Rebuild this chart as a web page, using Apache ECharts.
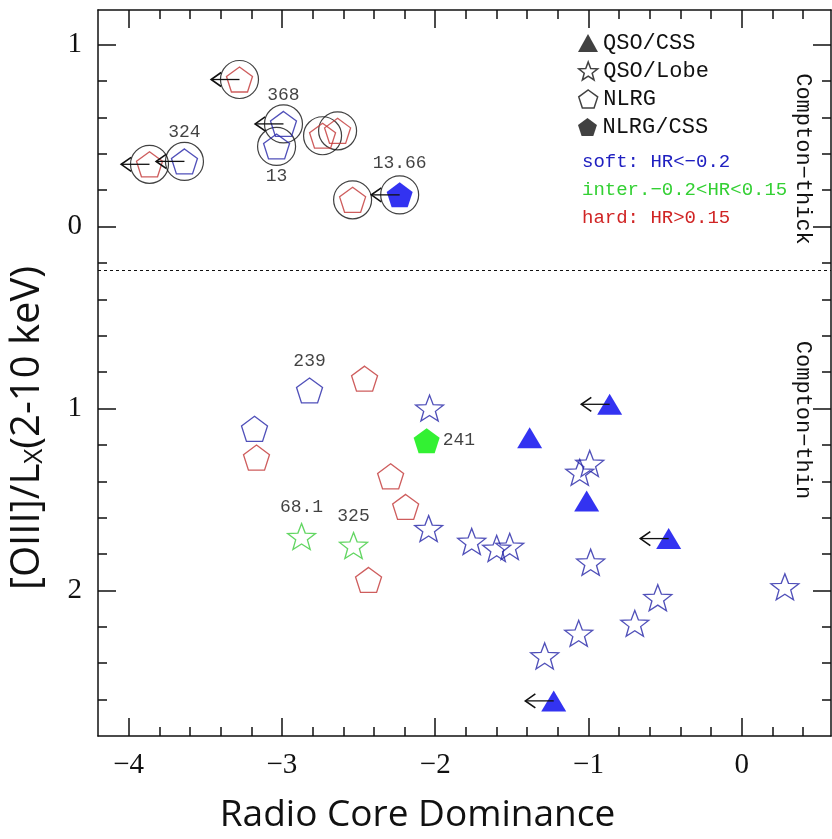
<!DOCTYPE html>
<html><head><meta charset="utf-8">
<script src="https://cdn.jsdelivr.net/npm/echarts@6/dist/echarts.min.js"></script>
<style>html,body{margin:0;padding:0;background:#fff}#c{width:832px;height:839px}</style>
</head><body><div id="c"></div>
<script>
// ---------- data ----------
// Compton-thick region (top panel), all encircled
const thickRedX = [-3.277, -3.864, -2.735, -2.637, -2.539];
const thickRedY = [-0.808, -0.342, -0.499, -0.526, -0.147];
const thickRedLimit = [1, 1, 0, 0, 0];

const thickBlueX = [-3.636, -2.990, -3.035];
const thickBlueY = [-0.358, -0.564, -0.440];
const thickBlueLimit = [1, 1, 0];
const thickBlueLabels = ['324', '368', '13'];

const thickBlueFillX = [-2.232];
const thickBlueFillY = [-0.174];
const thickBlueFillLimit = [1];
const thickBlueFillLabels = ['13.66'];

// Compton-thin region (bottom panel)
const thinRedPentX = [-2.461, -3.166, -2.291, -2.193, -2.435];
const thinRedPentY = [0.836, 1.270, 1.373, 1.541, 1.942];

const thinBluePentX = [-2.820, -3.179];
const thinBluePentY = [0.901, 1.112];
const thinBluePentLabels = ['239', ''];

const greenFillX = [-2.056];
const greenFillY = [1.177];
const greenFillLabels = ['241'];

const blueStarX = [-2.037, -2.043, -1.762, -1.599, -1.514, -0.992, -1.057, -0.986, -0.548, -0.698, -1.064, -1.286, 0.281];
const blueStarY = [0.998, 1.660, 1.731, 1.769, 1.758, 1.302, 1.351, 1.845, 2.040, 2.181, 2.236, 2.360, 1.980];

const greenStarX = [-2.872, -2.533];
const greenStarY = [1.704, 1.753];
const greenStarLabels = ['68.1', '325'];

const triX = [-0.862, -1.384, -1.012, -0.477, -1.227];
const triY = [0.977, 1.161, 1.509, 1.715, 2.607];
const triLimit = [1, 0, 0, 1, 1];

const dividerY = 0.24;

const xMajor = [-4, -3, -2, -1, 0];
const xMinor = [-3.8, -3.6, -3.4, -3.2, -2.8, -2.6, -2.4, -2.2, -1.8, -1.6, -1.4, -1.2, -0.8, -0.6, -0.4, -0.2, 0.2, 0.4];
const yMajor = [-1, 0, 1, 2];
const yMinor = [-0.8, -0.6, -0.4, -0.2, 0.2, 0.4, 0.6, 0.8, 1.2, 1.4, 1.6, 1.8, 2.2, 2.4, 2.6];

const legendNames = ['QSO/CSS', 'QSO/Lobe', 'NLRG', 'NLRG/CSS'];
const hrTexts = ['soft: HR<\u22120.2', 'inter.\u22120.2<HR<0.15', 'hard: HR>0.15'];
const regionTexts = ['Compton\u2212thick', 'Compton\u2212thin'];

// ---------- styles ----------
const XMIN = -4.2, XMAX = 0.582, YMIN = -1.19, YMAX = 2.8;
const INK = '#111';
const RED = '#c23434', BLUE = '#2424a8', GREEN = '#3ccc3c';
const BLUEFILL = '#0000ee', GREENFILL = '#00ee00';
const PENT = 'path://M0,-1 L0.951,-0.309 L0.588,0.809 L-0.588,0.809 L-0.951,-0.309 Z';
const STAR = 'path://M0,-1 L0.247,-0.340 L0.951,-0.309 L0.399,0.130 L0.588,0.809 L0,0.420 L-0.588,0.809 L-0.399,0.130 L-0.951,-0.309 L-0.247,-0.340 Z';
const ARROW_LEN = 0.185;
const MONO = 'Liberation Mono';

function pts(xs, ys, labels) {
  return xs.map((x, i) => {
    const name = labels ? labels[i] : '';
    const item = { value: [x, ys[i]], name: name };
    if (name === '13') item.label = { position: 'bottom', distance: 8 };
    if (name === '241') item.label = { position: 'right', distance: 3 };
    return item;
  });
}
function limits(xs, ys, flags) {
  const out = [];
  xs.forEach((x, i) => { if (flags[i]) out.push([x, ys[i]]); });
  return out;
}
const pointLabel = { show: true, formatter: p => p.name, position: 'top', distance: 7,
  fontFamily: MONO, fontSize: 18, color: INK };

const circlePts = [].concat(
  thickRedX.map((x, i) => [x, thickRedY[i]]),
  thickBlueX.map((x, i) => [x, thickBlueY[i]]),
  thickBlueFillX.map((x, i) => [x, thickBlueFillY[i]])
);
const arrowPts = [].concat(
  limits(thickRedX, thickRedY, thickRedLimit),
  limits(thickBlueX, thickBlueY, thickBlueLimit),
  limits(thickBlueFillX, thickBlueFillY, thickBlueFillLimit),
  limits(triX, triY, triLimit)
);

function fmtX(v) { return (v < 0 ? '\u2212' : '') + Math.abs(v); }
function fmtY(v) { return String(Math.abs(v)); }

function xAx(pos, major, withLabel) {
  return {
    type: 'value', position: pos, min: XMIN, max: XMAX,
    axisLine: { show: major, onZero: false, lineStyle: { color: INK, width: 1.5 } },
    axisTick: { show: true, inside: true, length: major ? 18 : 9, customValues: major ? xMajor : xMinor,
      lineStyle: { color: INK, width: 1.5 } },
    axisLabel: { show: withLabel, customValues: xMajor, formatter: fmtX, margin: 15,
      fontFamily: 'Liberation Serif', fontSize: 29, color: INK },
    splitLine: { show: false }
  };
}
function yAx(pos, major, withLabel) {
  return {
    type: 'value', position: pos, min: YMIN, max: YMAX, inverse: true,
    axisLine: { show: major, onZero: false, lineStyle: { color: INK, width: 1.5 } },
    axisTick: { show: true, inside: true, length: major ? 18 : 9, customValues: major ? yMajor : yMinor,
      lineStyle: { color: INK, width: 1.5 } },
    axisLabel: { show: withLabel, customValues: yMajor, formatter: fmtY, margin: 16,
      fontFamily: 'Liberation Serif', fontSize: 29, color: INK },
    splitLine: { show: false }
  };
}

const xAxes = [xAx('bottom', true, true), xAx('bottom', false, false), xAx('top', true, false), xAx('top', false, false)];
xAxes[0].name = 'Radio Core Dominance';
xAxes[0].nameLocation = 'middle';
xAxes[0].nameGap = 61;
xAxes[0].nameTextStyle = { fontFamily: 'Open Sans', fontSize: 37, color: INK, padding: [0, 94, 0, 0] };

const yAxes = [yAx('left', true, true), yAx('left', false, false), yAx('right', true, false), yAx('right', false, false)];
yAxes[0].name = '[OIII]/L{sub|X}(2-10 keV)';
yAxes[0].nameLocation = 'middle';
yAxes[0].nameRotate = 90;
yAxes[0].nameGap = 50;
yAxes[0].nameTextStyle = { fontFamily: 'Open Sans', fontSize: 40, color: INK, padding: [0, 110, 0, 0],
  rich: { sub: { fontFamily: 'Open Sans', fontSize: 26, color: INK, verticalAlign: 'bottom', lineHeight: 26 } } };

function legendAt(top, name, icon, style) {
  return {
    left: 578, top: top, orient: 'vertical', padding: 0, selectedMode: false,
    itemWidth: 20, itemHeight: 18,
    data: [{ name: name, icon: icon, itemStyle: style }],
    textStyle: { fontFamily: MONO, fontSize: 22, color: INK }
  };
}

const option = {
  animation: false,
  backgroundColor: '#fff',
  grid: { left: 98, right: 1, top: 10, bottom: 94, containLabel: false },
  xAxis: xAxes,
  yAxis: yAxes,
  legend: [
    legendAt(32, legendNames[0], 'triangle', { color: INK, borderWidth: 0 }),
    legendAt(60, legendNames[1], STAR, { color: '#fff', borderColor: INK, borderWidth: 1.5 }),
    legendAt(88, legendNames[2], PENT, { color: '#fff', borderColor: INK, borderWidth: 1.5 }),
    legendAt(116, legendNames[3], PENT, { color: INK, borderWidth: 0 })
  ],
  graphic: [
    { type: 'text', x: 582, y: 162, style: { text: hrTexts[0], font: '19px "Liberation Mono"', fill: '#2020c0', verticalAlign: 'middle' } },
    { type: 'text', x: 582, y: 190, style: { text: hrTexts[1], font: '19px "Liberation Mono"', fill: '#33d033', verticalAlign: 'middle' } },
    { type: 'text', x: 582, y: 218, style: { text: hrTexts[2], font: '19px "Liberation Mono"', fill: '#d02424', verticalAlign: 'middle' } },
    { type: 'text', x: 803, y: 159, rotation: -Math.PI / 2, style: { text: regionTexts[0], font: '22px "Liberation Mono"', fill: INK, align: 'center', verticalAlign: 'middle' } },
    { type: 'text', x: 803, y: 420, rotation: -Math.PI / 2, style: { text: regionTexts[1], font: '22px "Liberation Mono"', fill: INK, align: 'center', verticalAlign: 'middle' } }
  ],
  series: [
    {
      name: 'circles', type: 'scatter', symbol: 'circle', symbolSize: 38, z: 1,
      itemStyle: { color: 'rgba(0,0,0,0)', borderColor: INK, borderWidth: 1.2 },
      data: circlePts,
      markLine: { silent: true, symbol: ['none', 'none'], label: { show: false },
        lineStyle: { type: [3, 3], color: INK, width: 1.2 }, data: [{ yAxis: dividerY }] }
    },
    {
      name: 'NLRG', type: 'scatter', symbol: PENT, symbolSize: [26, 25], z: 2,
      itemStyle: { color: 'rgba(0,0,0,0)', borderColor: RED, borderWidth: 1.3 },
      data: pts(thickRedX.concat(thinRedPentX), thickRedY.concat(thinRedPentY))
    },
    {
      name: 'NLRG', type: 'scatter', symbol: PENT, symbolSize: [26, 25], z: 2,
      itemStyle: { color: 'rgba(0,0,0,0)', borderColor: BLUE, borderWidth: 1.3 },
      label: pointLabel,
      data: pts(thickBlueX.concat(thinBluePentX), thickBlueY.concat(thinBluePentY), thickBlueLabels.concat(thinBluePentLabels))
    },
    {
      name: 'NLRG/CSS', type: 'scatter', symbol: PENT, symbolSize: [26, 25], z: 2,
      itemStyle: { color: BLUEFILL, borderWidth: 0 },
      label: Object.assign({}, pointLabel, { distance: 10 }),
      data: pts(thickBlueFillX, thickBlueFillY, thickBlueFillLabels)
    },
    {
      name: 'NLRG/CSS', type: 'scatter', symbol: PENT, symbolSize: [26, 25], z: 2,
      itemStyle: { color: GREENFILL, borderWidth: 0 },
      label: pointLabel,
      data: pts(greenFillX, greenFillY, greenFillLabels)
    },
    {
      name: 'QSO/Lobe', type: 'scatter', symbol: STAR, symbolSize: [28, 26], z: 2,
      itemStyle: { color: 'rgba(0,0,0,0)', borderColor: BLUE, borderWidth: 1.3 },
      data: pts(blueStarX, blueStarY)
    },
    {
      name: 'QSO/Lobe', type: 'scatter', symbol: STAR, symbolSize: [28, 26], z: 2,
      itemStyle: { color: 'rgba(0,0,0,0)', borderColor: GREEN, borderWidth: 1.3 },
      label: pointLabel,
      data: pts(greenStarX, greenStarY, greenStarLabels)
    },
    {
      name: 'QSO/CSS', type: 'scatter', symbol: 'triangle', symbolSize: [25, 21], z: 2,
      itemStyle: { color: BLUEFILL, borderWidth: 0 },
      data: pts(triX, triY)
    },
    {
      name: 'limits', type: 'custom', z: 3, silent: true,
      encode: { x: 0, y: 1 },
      data: arrowPts,
      renderItem: function (params, api) {
        const x = api.value(0), y = api.value(1);
        const p0 = api.coord([x, y]);
        const p1 = api.coord([x - ARROW_LEN, y]);
        return {
          type: 'group', children: [
            { type: 'line', shape: { x1: p0[0], y1: p0[1], x2: p1[0], y2: p1[1] }, style: { stroke: INK, lineWidth: 1.3 } },
            { type: 'polyline', shape: { points: [[p1[0] + 10, p1[1] - 7], [p1[0], p1[1]], [p1[0] + 10, p1[1] + 7]] },
              style: { stroke: INK, fill: null, lineWidth: 1.6 } }
          ]
        };
      }
    }
  ]
};

const chart = echarts.init(document.getElementById('c'));
chart.setOption(option);
</script></body></html>
